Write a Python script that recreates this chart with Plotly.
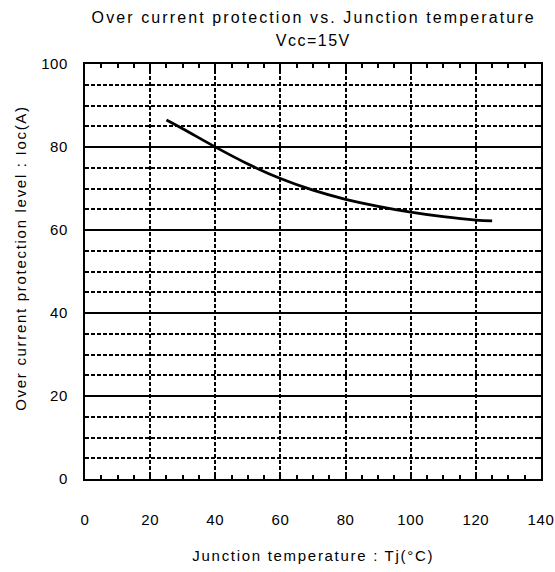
import plotly.graph_objects as go

# Data
tj = [25, 30, 40, 50, 60, 70, 80, 90, 100, 110, 120, 125]
ioc = [86.5, 84.4, 80.0, 75.9, 72.4, 69.6, 67.4, 65.7, 64.3, 63.2, 62.4, 62.2]

title_lines = ["Over current protection vs. Junction temperature", "Vcc=15V"]
x_title = "Junction temperature : Tj(°C)"
y_title = "Over current protection level : Ioc(A)"

FONT = "Liberation Sans, Arial, sans-serif"

fig = go.Figure()
fig.add_trace(go.Scatter(x=tj, y=ioc, mode="lines", line=dict(color="black", width=2.8, shape="spline"),
                         showlegend=False, hoverinfo="skip"))

fig.update_layout(
    width=555, height=572,
    margin=dict(l=85, r=14, t=64, b=93, autoexpand=False),
    paper_bgcolor="white", plot_bgcolor="white",
    font=dict(family=FONT, size=15, color="black"),
)
# titles (pixel offsets from the plot area edges)
fig.add_annotation(text=title_lines[0], x=0.5, xref="paper", y=1, yref="paper",
                   yanchor="middle", yshift=64 - 17, showarrow=False, font=dict(size=16))
fig.add_annotation(text=title_lines[1], x=0.5, xref="paper", y=1, yref="paper",
                   yanchor="middle", yshift=64 - 40, showarrow=False, font=dict(size=16))
fig.add_annotation(text=x_title, x=0.5, xref="paper", y=0, yref="paper",
                   yanchor="middle", yshift=-(555 - 479), showarrow=False, font=dict(size=15))
fig.add_annotation(text=y_title, x=0, xref="paper", y=0.5, yref="paper", textangle=-90,
                   xanchor="center", yanchor="middle", xshift=-(85 - 20), yshift=13,
                   showarrow=False, font=dict(size=15))

fig.update_xaxes(
    range=[0, 140], dtick=20, tick0=0, automargin=False,
    showgrid=True, gridcolor="black", gridwidth=1.5, griddash="4px,2px",
    showline=True, linecolor="black", linewidth=2, mirror="allticks",
    ticks="inside", ticklen=6, tickwidth=1.5, tickcolor="black",
    minor=dict(dtick=5, ticks="inside", ticklen=4, tickwidth=1.5, tickcolor="black", showgrid=False),
    ticklabelstandoff=26, zeroline=False,
)
fig.update_yaxes(
    range=[0, 100], dtick=20, tick0=0, automargin=False,
    showgrid=True, gridcolor="black", gridwidth=1.5,
    showline=True, linecolor="black", linewidth=2, mirror="allticks",
    ticks="inside", ticklen=6, tickwidth=1.5, tickcolor="black",
    minor=dict(dtick=5, ticks="inside", ticklen=4, tickwidth=1.5, tickcolor="black",
               showgrid=True, gridcolor="black", gridwidth=1.5, griddash="4px,2px"),
    ticklabelstandoff=12, zeroline=False,
)

post = """
document.body.style.margin = '0';
var gd = document.getElementById('{plot_id}');
var sp = {'0': '2.1px', '1': '1.5px', '2': '1.7px', '3': '1.7px'};
gd.querySelectorAll('g.annotation').forEach(function(g) {
  var i = g.getAttribute('data-index');
  g.querySelectorAll('text').forEach(function(t) { t.style.letterSpacing = sp[i] || '0px'; });
});
gd.querySelectorAll('.xtick text, .ytick text').forEach(function(t) { t.style.letterSpacing = '0.6px'; });
"""

fig.write_html("out.html", post_script=post, config={"displayModeBar": False})
